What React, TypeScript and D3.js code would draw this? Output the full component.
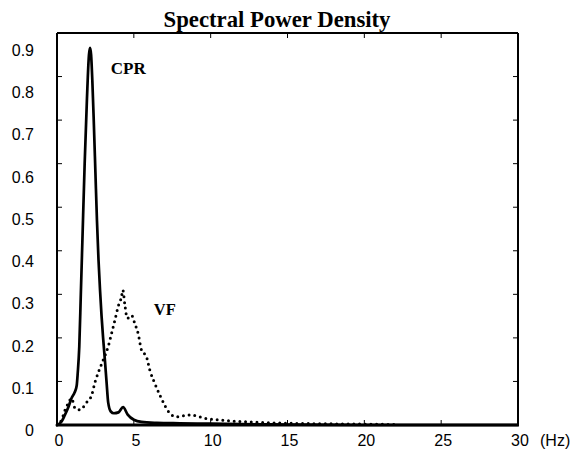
import React from "react";
import * as d3 from "d3";

const cprFreq = [0, 0.3, 0.5, 0.75, 0.95, 1.15, 1.28, 1.35, 1.45, 1.55, 1.65, 1.8, 1.95, 2.08, 2.15, 2.22, 2.3, 2.4, 2.5, 2.6, 2.7, 2.8, 2.9, 3.0, 3.12, 3.23, 3.33, 3.5, 3.7, 4.0, 4.3, 4.6, 5.0, 5.5, 6.5, 8, 10, 12, 15, 20, 25, 30];
const cprPower = [0, 0.008, 0.022, 0.042, 0.062, 0.075, 0.09, 0.12, 0.18, 0.3, 0.42, 0.6, 0.75, 0.85, 0.866, 0.85, 0.79, 0.69, 0.58, 0.47, 0.38, 0.31, 0.25, 0.2, 0.148, 0.096, 0.052, 0.031, 0.027, 0.029, 0.041, 0.024, 0.012, 0.007, 0.005, 0.004, 0.003, 0.002, 0.001, 0, 0, 0];

const vfFreq = [0, 0.3, 0.52, 0.73, 0.95, 1.17, 1.49, 1.93, 2.25, 2.47, 2.68, 3.0, 3.33, 3.55, 3.77, 3.98, 4.2, 4.28, 4.42, 4.57, 4.85, 5.06, 5.28, 5.5, 5.82, 6.04, 6.36, 6.69, 7.0, 7.34, 7.77, 8.64, 9.72, 10.8, 11.9, 14, 17, 20, 22];
const vfPower = [0, 0.012, 0.034, 0.05, 0.061, 0.039, 0.035, 0.052, 0.068, 0.098, 0.12, 0.149, 0.18, 0.21, 0.241, 0.272, 0.295, 0.31, 0.275, 0.245, 0.252, 0.233, 0.21, 0.172, 0.157, 0.126, 0.096, 0.069, 0.046, 0.027, 0.019, 0.023, 0.015, 0.011, 0.008, 0.005, 0.003, 0.002, 0.001];

const xTicks = [0, 5, 10, 15, 20, 25, 30];
const yTicks = [0, 0.1, 0.2, 0.3, 0.4, 0.5, 0.6, 0.7, 0.8, 0.9];
const title = "Spectral Power Density";
const unitLabel = "(Hz)";

export default function App() {
  const W = 572, H = 452;
  const left = 57, right = 518, top = 33, bottom = 425;
  const x = d3.scaleLinear().domain([0, 30]).range([left, right]);
  const y = d3.scaleLinear().domain([0, 0.9]).range([bottom, top]);
  // tick labels in the reference are placed on a slightly different spacing
  const yLabel = d3.scaleLinear().domain([0, 0.9]).range([436, 56]);

  const mk = (fs: number[], ps: number[]) =>
    d3.line<[number, number]>()
      .x(d => x(d[0])).y(d => y(d[1])).curve(d3.curveMonotoneX)(
        fs.map((f, i) => [f, ps[i]] as [number, number])
      ) || "";
  const cprPath = mk(cprFreq, cprPower);
  const vfPath = mk(vfFreq, vfPower);

  const inner = xTicks.filter(t => t > 0 && t < 30);
  const innerY = yTicks.filter(t => t > 0 && t < 0.9);
  const tl = 5;
  const sans = "'Liberation Sans', Arial, sans-serif";
  const serif = "'Liberation Serif', 'Times New Roman', serif";

  return (
    <div style={{ position: "fixed", left: 0, top: 0 }}>
      <svg width={W} height={H} style={{ display: "block", background: "#fff" }}>
        <text x={277} y={27} textAnchor="middle" fontFamily={serif} fontWeight="bold" fontSize={23} textLength={227} lengthAdjust="spacingAndGlyphs">{title}</text>

        {/* curves */}
        <path d={vfPath} fill="none" stroke="#000" strokeWidth={3} strokeLinecap="round" strokeDasharray="0 5.7" />
        <path d={cprPath} fill="none" stroke="#000" strokeWidth={2.7} strokeLinejoin="round" />

        {/* frame */}
        <line x1={left} x2={left} y1={top} y2={bottom} stroke="#000" strokeWidth={2} />
        <line x1={right} x2={right} y1={top} y2={bottom} stroke="#000" strokeWidth={2} />
        <line x1={left} x2={right} y1={top} y2={top} stroke="#000" strokeWidth={2} />
        <line x1={left - 1} x2={right + 1} y1={bottom} y2={bottom} stroke="#000" strokeWidth={3} />

        {inner.map(t => (
          <g key={"xt" + t}>
            <line x1={x(t)} x2={x(t)} y1={bottom} y2={bottom - tl} stroke="#000" strokeWidth={1} />
            <line x1={x(t)} x2={x(t)} y1={top} y2={top + tl} stroke="#000" strokeWidth={1} />
          </g>
        ))}
        {innerY.map(t => (
          <g key={"yt" + t}>
            <line x1={left} x2={left + tl} y1={y(t)} y2={y(t)} stroke="#000" strokeWidth={1} />
            <line x1={right} x2={right - tl} y1={y(t)} y2={y(t)} stroke="#000" strokeWidth={1} />
          </g>
        ))}

        {xTicks.map(t => (
          <text key={"xl" + t} x={x(t) + 2} y={446} textAnchor="middle" fontFamily={sans} fontSize={16}>{t}</text>
        ))}
        <text x={x(30) + 22} y={446} fontFamily={sans} fontSize={16}>{unitLabel}</text>
        {yTicks.map(t => (
          <text key={"yl" + t} x={34} y={yLabel(t)} textAnchor="end" fontFamily={sans} fontSize={16}>{t === 0 ? "0" : t.toFixed(1)}</text>
        ))}

        <text x={x(3.5)} y={y(0.805)} fontFamily={serif} fontWeight="bold" fontSize={17}>CPR</text>
        <text x={x(6.3)} y={y(0.252)} fontFamily={serif} fontWeight="bold" fontSize={16.5}>VF</text>
      </svg>
    </div>
  );
}
